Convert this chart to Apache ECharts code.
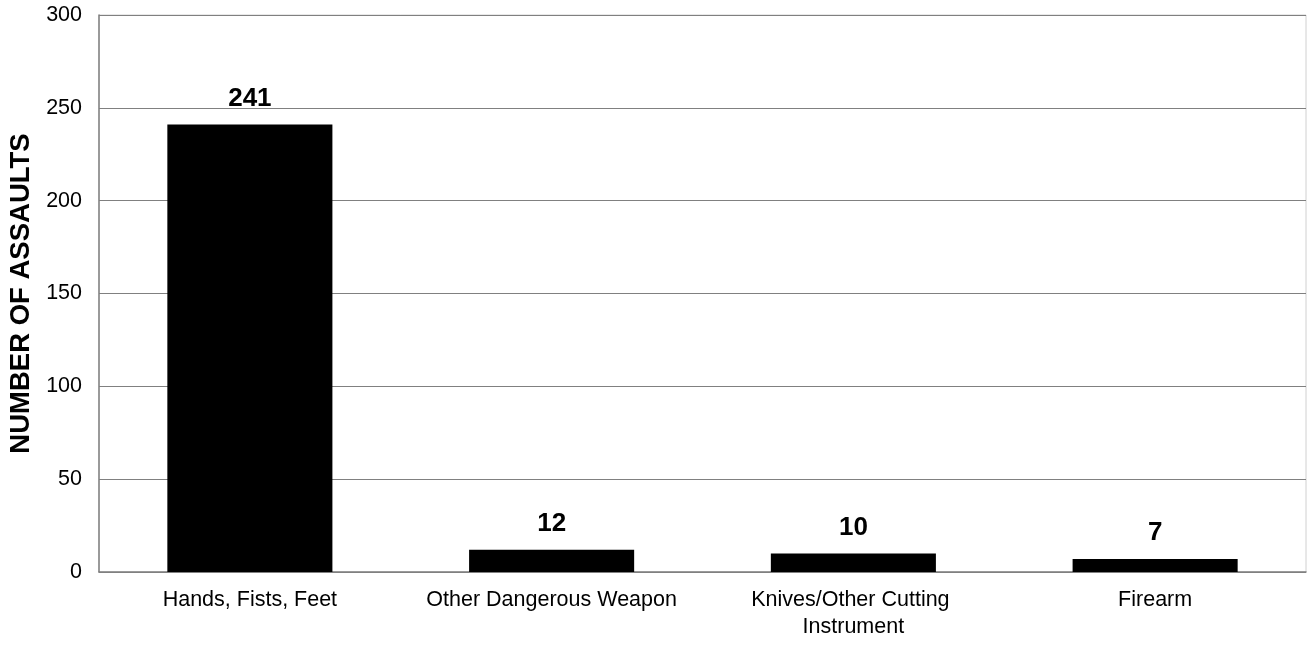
<!DOCTYPE html>
<html>
<head>
<meta charset="utf-8">
<script src="https://cdn.jsdelivr.net/npm/echarts@6/dist/echarts.min.js"></script>
<style>html,body{margin:0;padding:0;background:#fff;}#c{width:1307px;height:646px;}</style>
</head>
<body>
<div id="c"></div>
<script>
const categories = ["Hands, Fists, Feet", "Other Dangerous Weapon", "Knives/Other Cutting Instrument", "Firearm"];
const values = [241, 12, 10, 7];
const yTicks = { min: 0, max: 300, interval: 50 };
const yName = "NUMBER OF ASSAULTS";

const chart = echarts.init(document.getElementById('c'));
chart.setOption({
  animation: false,
  backgroundColor: '#fff',
  textStyle: { fontFamily: 'Liberation Sans, Arial, sans-serif' },
  grid: { left: 99, right: 1, top: 15, bottom: 74, show: true, borderColor: '#d0d0d0', borderWidth: 1, outerBoundsMode: 'none', containLabel: false },
  xAxis: {
    type: 'category',
    data: categories,
    axisLine: { lineStyle: { color: '#808080', width: 1.5 } },
    axisTick: { show: false },
    axisLabel: { interval: 0, color: '#000', fontSize: 21.5, margin: 15, width: 275, overflow: 'break', lineHeight: 27 }
  },
  yAxis: {
    type: 'value',
    min: yTicks.min, max: yTicks.max, interval: yTicks.interval,
    name: yName,
    nameLocation: 'middle',
    nameGap: 63,
    nameTextStyle: { color: '#000', fontSize: 27.5, fontWeight: 'bold' },
    axisLine: { show: true, lineStyle: { color: '#808080', width: 1.5 } },
    axisTick: { show: false },
    axisLabel: { color: '#000', fontSize: 21.5, margin: 17 },
    splitLine: { lineStyle: { color: '#808080', width: 1.2 } }
  },
  series: [{
    type: 'bar',
    data: values,
    barWidth: '54.7%',
    itemStyle: { color: '#000' },
    label: { show: true, position: 'top', distance: 13, color: '#000', fontSize: 26, fontWeight: 'bold' }
  }]
});
</script>
</body>
</html>
